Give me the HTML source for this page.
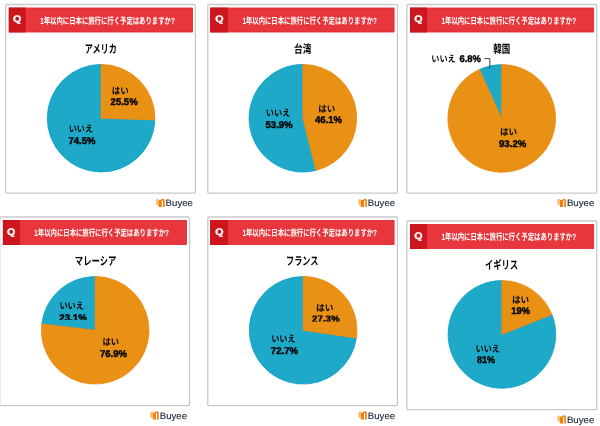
<!DOCTYPE html>
<html lang="ja"><head><meta charset="utf-8"><title>1年以内に日本に旅行に行く予定はありますか?</title>
<style>
html,body{margin:0;padding:0;background:#fff;}
body{width:600px;height:426px;overflow:hidden;font-family:"Liberation Sans",sans-serif;}
svg{display:block;will-change:transform;text-rendering:geometricPrecision;font-family:"Liberation Sans",sans-serif;}
.jp{font-family:"Liberation Sans","Noto Sans CJK JP",sans-serif;font-weight:700;}
</style></head><body>
<svg width="600" height="426" viewBox="0 0 600 426">
<defs>
<g id="logo"><path d="M0 0.6 L2.1 0 L2.1 6.6 L0 5.9Z" fill="#f7b560"/><path d="M2.3 1.3 H4.5 Q5.1 0 6.6 0 Q8.4 0 8.4 1.9 V8.1 H2.3Z" fill="#f07f0e"/><path d="M5.5 8.2 V2.6 Q5.5 1.4 6.1 1.4 Q6.7 1.4 6.7 2.6 V8.2Z" fill="#fff"/><text x="9.3" y="7.3" font-size="9.2" font-weight="400" fill="#1d2b3a" stroke="#1d2b3a" stroke-width="0.15" textLength="27.4" lengthAdjust="spacingAndGlyphs">Buyee</text></g>
<clipPath id="c4"><rect x="50" y="312" width="50" height="7.9"/></clipPath>
<clipPath id="c5"><rect x="305" y="315.6" width="50" height="5.8"/></clipPath>
</defs>
<g role="img" aria-label="1年以内に日本に旅行に行く予定はありますか? アメリカ"><desc>Q 1年以内に日本に旅行に行く予定はありますか? アメリカ: はい 25.5% / いいえ 74.5%</desc><rect x="5.6" y="4.5" width="189.8" height="188.7" rx="1.2" fill="#fff" stroke="#c9c9c9" stroke-width="1.3"/><rect x="9.2" y="8.0" width="183.2" height="24" fill="#e8373c" stroke="#e2202a" stroke-width="0.8"/><rect x="9.2" y="8.0" width="15.9" height="24" fill="#cd161e" stroke="#c90d16" stroke-width="0.8"/><text x="13.0" y="22.2" font-size="9.5" font-weight="700" fill="#fff" stroke="#fff" stroke-width="0.35" textLength="8.3" lengthAdjust="spacingAndGlyphs">Q</text><text class="jp" x="40.2" y="23.8" font-size="9" fill="#fff" textLength="134.6" lengthAdjust="spacingAndGlyphs">1年以内に日本に旅行に行く予定はありますか?</text><text class="jp" x="84.7" y="52.5" font-size="11.5" fill="#050505" textLength="32.2" lengthAdjust="spacingAndGlyphs">アメリカ</text><use href="#logo" x="156.3" y="198.8"/></g>
<g role="img" aria-label="1年以内に日本に旅行に行く予定はありますか? 台湾"><desc>Q 1年以内に日本に旅行に行く予定はありますか? 台湾: はい 46.1% / いいえ 53.9%</desc><rect x="207.8" y="4.5" width="189.6" height="188.7" rx="1.2" fill="#fff" stroke="#c9c9c9" stroke-width="1.3"/><rect x="210.7" y="8.0" width="183.4" height="24" fill="#e8373c" stroke="#e2202a" stroke-width="0.8"/><rect x="210.7" y="8.0" width="16.6" height="24" fill="#cd161e" stroke="#c90d16" stroke-width="0.8"/><text x="215.2" y="22.2" font-size="9.5" font-weight="700" fill="#fff" stroke="#fff" stroke-width="0.35" textLength="8.3" lengthAdjust="spacingAndGlyphs">Q</text><text class="jp" x="242.4" y="23.8" font-size="9" fill="#fff" textLength="134.6" lengthAdjust="spacingAndGlyphs">1年以内に日本に旅行に行く予定はありますか?</text><text class="jp" x="294.1" y="52.5" font-size="11.5" fill="#050505" textLength="17.4" lengthAdjust="spacingAndGlyphs">台湾</text><use href="#logo" x="358.5" y="198.8"/></g>
<g role="img" aria-label="1年以内に日本に旅行に行く予定はありますか? 韓国"><desc>Q 1年以内に日本に旅行に行く予定はありますか? 韓国: はい 93.2% / いいえ 6.8%</desc><rect x="406.9" y="4.5" width="189.8" height="188.7" rx="1.2" fill="#fff" stroke="#c9c9c9" stroke-width="1.3"/><rect x="410.5" y="8.0" width="183.2" height="24" fill="#e8373c" stroke="#e2202a" stroke-width="0.8"/><rect x="410.5" y="8.0" width="15.9" height="24" fill="#cd161e" stroke="#c90d16" stroke-width="0.8"/><text x="414.3" y="22.2" font-size="9.5" font-weight="700" fill="#fff" stroke="#fff" stroke-width="0.35" textLength="8.3" lengthAdjust="spacingAndGlyphs">Q</text><text class="jp" x="441.5" y="23.8" font-size="9" fill="#fff" textLength="134.6" lengthAdjust="spacingAndGlyphs">1年以内に日本に旅行に行く予定はありますか?</text><text class="jp" x="493.3" y="52.5" font-size="11.5" fill="#050505" textLength="17" lengthAdjust="spacingAndGlyphs">韓国</text><use href="#logo" x="557.6" y="198.8"/></g>
<g role="img" aria-label="1年以内に日本に旅行に行く予定はありますか? マレーシア"><desc>Q 1年以内に日本に旅行に行く予定はありますか? マレーシア: はい 76.9% / いいえ 23.1%</desc><rect x="-0.3" y="217.0" width="189.8" height="188.7" rx="1.2" fill="#fff" stroke="#c9c9c9" stroke-width="1.3"/><rect x="3.3" y="220.5" width="183.2" height="24" fill="#e8373c" stroke="#e2202a" stroke-width="0.8"/><rect x="3.3" y="220.5" width="15.9" height="24" fill="#cd161e" stroke="#c90d16" stroke-width="0.8"/><text x="7.1" y="234.7" font-size="9.5" font-weight="700" fill="#fff" stroke="#fff" stroke-width="0.35" textLength="8.3" lengthAdjust="spacingAndGlyphs">Q</text><text class="jp" x="34.3" y="236.3" font-size="9" fill="#fff" textLength="134.6" lengthAdjust="spacingAndGlyphs">1年以内に日本に旅行に行く予定はありますか?</text><text class="jp" x="74.8" y="264.6" font-size="11.5" fill="#050505" textLength="41.6" lengthAdjust="spacingAndGlyphs">マレーシア</text><use href="#logo" x="150.4" y="411.3"/></g>
<g role="img" aria-label="1年以内に日本に旅行に行く予定はありますか? フランス"><desc>Q 1年以内に日本に旅行に行く予定はありますか? フランス: はい 27.3% / いいえ 72.7%</desc><rect x="207.8" y="217.0" width="189.6" height="188.7" rx="1.2" fill="#fff" stroke="#c9c9c9" stroke-width="1.3"/><rect x="210.7" y="220.5" width="183.4" height="24" fill="#e8373c" stroke="#e2202a" stroke-width="0.8"/><rect x="210.7" y="220.5" width="16.6" height="24" fill="#cd161e" stroke="#c90d16" stroke-width="0.8"/><text x="215.2" y="234.7" font-size="9.5" font-weight="700" fill="#fff" stroke="#fff" stroke-width="0.35" textLength="8.3" lengthAdjust="spacingAndGlyphs">Q</text><text class="jp" x="242.4" y="236.3" font-size="9" fill="#fff" textLength="134.6" lengthAdjust="spacingAndGlyphs">1年以内に日本に旅行に行く予定はありますか?</text><text class="jp" x="286" y="264.6" font-size="11.5" fill="#050505" textLength="32.5" lengthAdjust="spacingAndGlyphs">フランス</text><use href="#logo" x="358.5" y="411.3"/></g>
<g role="img" aria-label="1年以内に日本に旅行に行く予定はありますか? イギリス"><desc>Q 1年以内に日本に旅行に行く予定はありますか? イギリス: はい 19% / いいえ 81%</desc><rect x="406.9" y="221.0" width="189.8" height="188.7" rx="1.2" fill="#fff" stroke="#c9c9c9" stroke-width="1.3"/><rect x="410.5" y="224.5" width="183.2" height="24" fill="#e8373c" stroke="#e2202a" stroke-width="0.8"/><rect x="410.5" y="224.5" width="15.9" height="24" fill="#cd161e" stroke="#c90d16" stroke-width="0.8"/><text x="414.3" y="238.7" font-size="9.5" font-weight="700" fill="#fff" stroke="#fff" stroke-width="0.35" textLength="8.3" lengthAdjust="spacingAndGlyphs">Q</text><text class="jp" x="441.5" y="240.3" font-size="9" fill="#fff" textLength="134.6" lengthAdjust="spacingAndGlyphs">1年以内に日本に旅行に行く予定はありますか?</text><text class="jp" x="485.1" y="268.5" font-size="11.5" fill="#050505" textLength="33" lengthAdjust="spacingAndGlyphs">イギリス</text><use href="#logo" x="557.6" y="415.3"/></g>
<path d="M101.1 118.2L154.87 119.89A53.800000000000004 53.800000000000004 0 1 1 101.1 64.40Z" fill="#1da9c7" stroke="#0b9fd0" stroke-width="0.8" stroke-linejoin="round"/><path d="M101.1 118.2L101.1 64.40A53.800000000000004 53.800000000000004 0 0 1 154.87 119.89Z" fill="#e99115" stroke="#f0860a" stroke-width="0.8" stroke-linejoin="round"/>
<text class="jp" x="111.7" y="93.6" font-size="9.2" fill="#050505" textLength="17" lengthAdjust="spacingAndGlyphs">はい</text>
<text x="110.6" y="105.4" font-size="9.8" font-weight="700" textLength="27.0" lengthAdjust="spacingAndGlyphs" fill="#050505" stroke="#050505" stroke-width="0.45">25.5%</text>
<text class="jp" x="68.7" y="131.8" font-size="9.2" fill="#050505" textLength="24.3" lengthAdjust="spacingAndGlyphs">いいえ</text>
<text x="68.5" y="143.8" font-size="9.8" font-weight="700" textLength="27.0" lengthAdjust="spacingAndGlyphs" fill="#050505" stroke="#050505" stroke-width="0.45">74.5%</text>
<path d="M302.9 118.2L315.95 170.39A53.800000000000004 53.800000000000004 0 1 1 302.9 64.40Z" fill="#1da9c7" stroke="#0b9fd0" stroke-width="0.8" stroke-linejoin="round"/><path d="M302.9 118.2L302.9 64.40A53.800000000000004 53.800000000000004 0 0 1 315.95 170.39Z" fill="#e99115" stroke="#f0860a" stroke-width="0.8" stroke-linejoin="round"/>
<text class="jp" x="265.8" y="116.3" font-size="9.2" fill="#050505" textLength="24.5" lengthAdjust="spacingAndGlyphs">いいえ</text>
<text x="265.5" y="128.3" font-size="9.8" font-weight="700" textLength="27.1" lengthAdjust="spacingAndGlyphs" fill="#050505" stroke="#050505" stroke-width="0.45">53.9%</text>
<text class="jp" x="318.3" y="112.4" font-size="9.2" fill="#050505" textLength="17" lengthAdjust="spacingAndGlyphs">はい</text>
<text x="315.0" y="123.3" font-size="9.8" font-weight="700" textLength="27.0" lengthAdjust="spacingAndGlyphs" fill="#050505" stroke="#050505" stroke-width="0.45">46.1%</text>
<path d="M501.7 118.4L479.41 69.44A53.800000000000004 53.800000000000004 0 0 1 501.7 64.60Z" fill="#1da9c7" stroke="#0b9fd0" stroke-width="0.8" stroke-linejoin="round"/><path d="M501.7 118.4L501.7 64.60A53.800000000000004 53.800000000000004 0 1 1 479.41 69.44Z" fill="#e99115" stroke="#f0860a" stroke-width="0.8" stroke-linejoin="round"/>
<text class="jp" x="431.3" y="61.5" font-size="9.2" fill="#050505" textLength="24.4" lengthAdjust="spacingAndGlyphs">いいえ</text>
<text x="459.5" y="61.8" font-size="9.8" font-weight="700" textLength="21.4" lengthAdjust="spacingAndGlyphs" fill="#050505" stroke="#050505" stroke-width="0.45">6.8%</text>
<path d="M484.3 58.6H489.8V68.8" fill="none" stroke="#444" stroke-width="1"/>
<text class="jp" x="500" y="134.7" font-size="9.2" fill="#050505" textLength="17.2" lengthAdjust="spacingAndGlyphs">はい</text>
<text x="499.0" y="146.6" font-size="9.8" font-weight="700" textLength="27.3" lengthAdjust="spacingAndGlyphs" fill="#050505" stroke="#050505" stroke-width="0.45">93.2%</text>
<path d="M95.2 330.3L41.78 323.89A53.800000000000004 53.800000000000004 0 0 1 95.2 276.50Z" fill="#1da9c7" stroke="#0b9fd0" stroke-width="0.8" stroke-linejoin="round"/><path d="M95.2 330.3L95.2 276.50A53.800000000000004 53.800000000000004 0 1 1 41.78 323.89Z" fill="#e99115" stroke="#f0860a" stroke-width="0.8" stroke-linejoin="round"/>
<text class="jp" x="59.4" y="309" font-size="9.2" fill="#050505" textLength="24.7" lengthAdjust="spacingAndGlyphs">いいえ</text>
<text x="59.3" y="320.9" font-size="9.8" font-weight="700" textLength="27.5" lengthAdjust="spacingAndGlyphs" fill="#050505" stroke="#050505" stroke-width="0.45" clip-path="url(#c4)">23.1%</text>
<text class="jp" x="102.5" y="345.2" font-size="9.2" fill="#050505" textLength="16.7" lengthAdjust="spacingAndGlyphs">はい</text>
<text x="100.0" y="356.9" font-size="9.8" font-weight="700" textLength="27.0" lengthAdjust="spacingAndGlyphs" fill="#050505" stroke="#050505" stroke-width="0.45">76.9%</text>
<path d="M303.1 330.3L356.34 338.05A53.800000000000004 53.800000000000004 0 1 1 303.1 276.50Z" fill="#1da9c7" stroke="#0b9fd0" stroke-width="0.8" stroke-linejoin="round"/><path d="M303.1 330.3L303.1 276.50A53.800000000000004 53.800000000000004 0 0 1 356.34 338.05Z" fill="#e99115" stroke="#f0860a" stroke-width="0.8" stroke-linejoin="round"/>
<text class="jp" x="316.1" y="310.6" font-size="9.2" fill="#050505" textLength="17.4" lengthAdjust="spacingAndGlyphs">はい</text>
<text x="312.1" y="321.6" font-size="9.8" font-weight="700" textLength="27.4" lengthAdjust="spacingAndGlyphs" fill="#050505" stroke="#050505" stroke-width="0.45" clip-path="url(#c5)">27.3%</text>
<text class="jp" x="271.3" y="341.9" font-size="9.2" fill="#050505" textLength="24.2" lengthAdjust="spacingAndGlyphs">いいえ</text>
<text x="270.8" y="354.4" font-size="9.8" font-weight="700" textLength="27.2" lengthAdjust="spacingAndGlyphs" fill="#050505" stroke="#050505" stroke-width="0.45">72.7%</text>
<path d="M501.9 334.4L551.92 314.59A53.800000000000004 53.800000000000004 0 1 1 501.9 280.60Z" fill="#1da9c7" stroke="#0b9fd0" stroke-width="0.8" stroke-linejoin="round"/><path d="M501.9 334.4L501.9 280.60A53.800000000000004 53.800000000000004 0 0 1 551.92 314.59Z" fill="#e99115" stroke="#f0860a" stroke-width="0.8" stroke-linejoin="round"/>
<text class="jp" x="512" y="303.1" font-size="9.2" fill="#050505" textLength="17.2" lengthAdjust="spacingAndGlyphs">はい</text>
<text x="511.3" y="314.2" font-size="9.8" font-weight="700" textLength="18.7" lengthAdjust="spacingAndGlyphs" fill="#050505" stroke="#050505" stroke-width="0.45">19%</text>
<text class="jp" x="475.6" y="352" font-size="9.2" fill="#050505" textLength="24.4" lengthAdjust="spacingAndGlyphs">いいえ</text>
<text x="477.0" y="362.9" font-size="9.8" font-weight="700" textLength="18.0" lengthAdjust="spacingAndGlyphs" fill="#050505" stroke="#050505" stroke-width="0.45">81%</text>
</svg>
</body></html>
